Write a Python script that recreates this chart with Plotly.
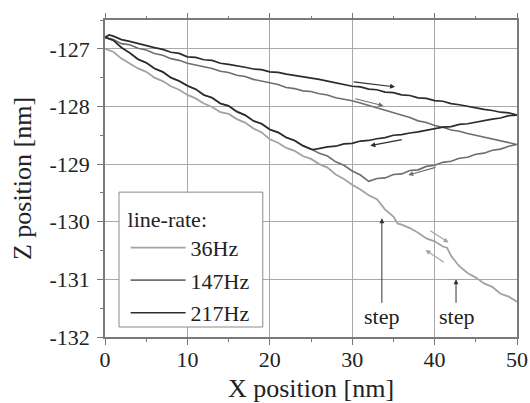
import plotly.graph_objects as go

# ---------------- data ----------------
# 36 Hz trace (forward and backward practically coincide)
x_36 = [0, 1, 2, 3, 4, 5, 6, 7, 8, 9, 10, 11, 12, 13, 14, 15, 16, 17, 18, 19, 20,
        21, 22, 23, 24, 25, 26, 27, 28, 29, 30, 31, 32, 33, 34, 35, 35.5, 36, 37,
        38, 39, 40, 41, 41.5, 42, 42.7, 43, 44, 45, 46, 47, 48, 49, 50]
z_36 = [-127.00, -127.05, -127.17, -127.25, -127.34, -127.40, -127.50, -127.56, -127.65, -127.71,
        -127.80, -127.86, -127.95, -128.01, -128.10, -128.13, -128.22, -128.28, -128.38, -128.45,
        -128.57, -128.63, -128.72, -128.77, -128.86, -128.91, -129.00, -129.06, -129.18, -129.26,
        -129.36, -129.44, -129.54, -129.61, -129.79, -129.91, -130.03, -130.05, -130.11, -130.19,
        -130.29, -130.34, -130.43, -130.45, -130.59, -130.72, -130.77, -130.89, -130.97, -131.07,
        -131.13, -131.25, -131.30, -131.39]

# 147 Hz: forward scan (upper line)
x_147_fwd = [0, 1, 2, 3, 4, 5, 6, 7, 8, 9, 10, 11, 12, 13, 14, 15, 16, 17, 18, 19, 20, 21, 22, 23,
             24, 25, 26, 27, 28, 29, 30, 31, 32, 33, 34, 35, 36, 37, 38, 39, 40, 41, 42, 43, 44, 45,
             46, 47, 48, 49, 50]
z_147_fwd = [-126.80, -126.84, -126.91, -126.93, -126.99, -127.02, -127.08, -127.11, -127.17, -127.20,
             -127.25, -127.28, -127.32, -127.34, -127.39, -127.41, -127.46, -127.48, -127.53, -127.56,
             -127.60, -127.62, -127.67, -127.69, -127.73, -127.74, -127.78, -127.80, -127.85, -127.87,
             -127.90, -127.94, -127.98, -128.03, -128.06, -128.11, -128.15, -128.19, -128.25, -128.28,
             -128.33, -128.36, -128.41, -128.43, -128.47, -128.50, -128.54, -128.56, -128.60, -128.62,
             -128.66]
# 147 Hz: backward scan, return line from x=50 down to the lower curve
x_147_ret = [50, 49, 48, 47, 46, 45, 44, 43, 42, 41, 40, 39, 38, 37, 36, 35, 34, 33, 32]
z_147_ret = [-128.66, -128.69, -128.74, -128.76, -128.81, -128.83, -128.88, -128.90, -128.95, -128.97,
             -129.02, -129.04, -129.10, -129.11, -129.17, -129.18, -129.24, -129.25, -129.30]

# 217 Hz: forward scan (top line)
x_217_fwd = [0, 0.5, 1, 2, 3, 4, 5, 6, 7, 8, 9, 10, 11, 12, 13, 14, 15, 16, 17, 18, 19, 20, 21, 22,
             23, 24, 25, 26, 27, 28, 29, 30, 31, 32, 33, 34, 35, 36, 37, 38, 39, 40, 41, 42, 43, 44,
             45, 46, 47, 48, 49, 50]
z_217_fwd = [-126.80, -126.76, -126.78, -126.84, -126.87, -126.91, -126.94, -126.98, -127.01, -127.06,
             -127.08, -127.14, -127.15, -127.19, -127.20, -127.25, -127.27, -127.29, -127.32, -127.35,
             -127.36, -127.40, -127.41, -127.44, -127.46, -127.49, -127.51, -127.53, -127.56, -127.59,
             -127.61, -127.65, -127.66, -127.70, -127.71, -127.75, -127.76, -127.80, -127.81, -127.85,
             -127.86, -127.90, -127.91, -127.95, -127.97, -128.00, -128.02, -128.05, -128.07, -128.10,
             -128.11, -128.15]
# 217 Hz: backward scan, return line from x=50 down to the lower curve
x_217_ret = [50, 49, 48, 47, 46, 45, 44, 43, 42, 41, 40, 39, 38, 37, 36, 35, 34, 33, 32, 31, 30,
             29, 28, 27, 26, 25.3]
z_217_ret = [-128.15, -128.16, -128.20, -128.22, -128.25, -128.27, -128.30, -128.31, -128.35, -128.36,
             -128.39, -128.41, -128.44, -128.46, -128.49, -128.50, -128.54, -128.56, -128.59, -128.60,
             -128.64, -128.65, -128.69, -128.70, -128.73, -128.75]

# lower (steep) part of the backward scans, shared by 147 Hz and 217 Hz
x_lower = [32, 31, 30, 29, 28, 27, 26, 25, 24, 23, 22, 21, 20, 19, 18, 17, 16, 15, 14, 13, 12,
           11, 10, 9, 8, 7, 6, 5, 4, 3, 2, 1, 0]
z_lower = [-129.30, -129.19, -129.12, -129.02, -128.96, -128.86, -128.81, -128.74, -128.68, -128.59,
           -128.54, -128.45, -128.40, -128.30, -128.25, -128.15, -128.09, -127.99, -127.95, -127.85,
           -127.80, -127.70, -127.64, -127.56, -127.50, -127.40, -127.34, -127.24, -127.18, -127.07,
           -126.98, -126.85, -126.80]

rates = ["36Hz", "147Hz", "217Hz"]
colors = ["#a2a2a2", "#6e6e6e", "#2c2c2c"]

# direction arrows: (tail x, tail z, head x, head z, colour index)
arrows = [
    (30.0, -127.57, 35.2, -127.66, 2),
    (30.2, -127.86, 33.8, -127.99, 1),
    (36.2, -128.57, 32.2, -128.68, 2),
    (40.3, -129.05, 36.8, -129.19, 1),
    (39.3, -130.14, 41.7, -130.36, 0),
    (41.3, -130.72, 38.9, -130.49, 0),
]
# "step" markers: (x, z of arrow tip, z of label)
steps = [(33.6, -129.94, -131.65), (42.6, -131.00, -131.65)]

x_ticks = [0, 10, 20, 30, 40, 50]
x_ticktext = ["0", "10", "20", "30", "40", "50"]
z_ticks = [-132, -131, -130, -129, -128, -127]
z_ticktext = ["-132", "-131", "-130", "-129", "-128", "-127"]

# ---------------- figure ----------------
FONT = "Liberation Serif"
FS = 22
fig = go.Figure()

fig.add_trace(go.Scatter(x=x_36, y=z_36, mode="lines", name=rates[0],
                         line=dict(color=colors[0], width=1.8), legendgroup="a"))
x147 = x_147_fwd + x_147_ret + x_lower
z147 = z_147_fwd + z_147_ret + z_lower
fig.add_trace(go.Scatter(x=x147, y=z147, mode="lines", name=rates[1],
                         line=dict(color=colors[1], width=1.6), legendgroup="b"))
x217 = x_217_fwd + x_217_ret + [x for x in x_lower if x <= 25]
z217 = z_217_fwd + z_217_ret + [z for x, z in zip(x_lower, z_lower) if x <= 25]
fig.add_trace(go.Scatter(x=x217, y=z217, mode="lines", name=rates[2],
                         line=dict(color=colors[2], width=1.7), legendgroup="c"))

annotations = []
for tx, tz, hx, hz, ci in arrows:
    annotations.append(dict(x=hx, y=hz, ax=tx, ay=tz, xref="x", yref="y", axref="x", ayref="y",
                            text="", showarrow=True, arrowhead=2, arrowsize=0.9, arrowwidth=1.1,
                            arrowcolor=colors[ci]))
for sx, sz, lz in steps:
    annotations.append(dict(x=sx, y=sz, ax=sx, ay=lz, xref="x", yref="y", axref="x", ayref="y",
                            text="step", showarrow=True, arrowhead=2, arrowsize=1, arrowwidth=1,
                            arrowcolor="#333", font=dict(family=FONT, size=FS, color="#222")))

fig.update_layout(
    width=530, height=403,
    margin=dict(l=105, r=13, t=20, b=66, autoexpand=False),
    paper_bgcolor="white", plot_bgcolor="white",
    font=dict(family=FONT, size=FS, color="#222"),
    annotations=annotations,
    shapes=[dict(type="rect", xref="paper", yref="paper", x0=0.034, x1=0.383, y0=0.0315, y1=0.457,
                 fillcolor="white", line=dict(color="#8a8a8a", width=1), layer="above")],
    showlegend=True,
    legend=dict(x=0.05, y=0.438, xanchor="left", yanchor="top", bgcolor="rgba(0,0,0,0)",
                borderwidth=0, tracegroupgap=1, itemwidth=55,
                title=dict(text="line-rate:", font=dict(family=FONT, size=FS)),
                font=dict(family=FONT, size=FS, color="#222")),
    xaxis=dict(range=[0, 50], tickvals=x_ticks, ticktext=x_ticktext, ticks="outside", ticklen=6,
               tickcolor="#777", showline=True, linecolor="#7a7a7a", linewidth=1.5, mirror=True,
               showgrid=True, gridcolor="#a8a8a8", gridwidth=1.2, zeroline=False, automargin=False,
               ticklabelstandoff=-4,
               minor=dict(dtick=5, ticks="outside", ticklen=3, tickcolor="#777", showgrid=False),
               title=dict(text="X position [nm]", standoff=24)),
    xaxis2=dict(range=[0, 50], overlaying="x", side="top", tickvals=x_ticks, ticks="outside",
                ticklen=6, tickcolor="#777", showticklabels=False, showgrid=False, zeroline=False,
                automargin=False,
                minor=dict(dtick=5, ticks="outside", ticklen=3, tickcolor="#777", showgrid=False)),
    yaxis=dict(range=[-132, -126.5], tickvals=z_ticks, ticktext=z_ticktext, ticks="outside", ticklen=6,
               tickcolor="#777", showline=True, linecolor="#7a7a7a", linewidth=1.5, mirror=True,
               showgrid=True, gridcolor="#a8a8a8", gridwidth=1.2, zeroline=False, automargin=False,
               ticklabelstandoff=3,
               minor=dict(dtick=0.5, ticks="outside", ticklen=3, tickcolor="#777", showgrid=False),
               title=dict(text="Z position [nm]", standoff=10)),
)
# invisible trace to activate the top axis ticks
fig.add_trace(go.Scatter(x=[0, 50], y=[-132, -132], xaxis="x2", mode="lines",
                         line=dict(width=0), showlegend=False, hoverinfo="skip"))

fig.write_html("out.html")
